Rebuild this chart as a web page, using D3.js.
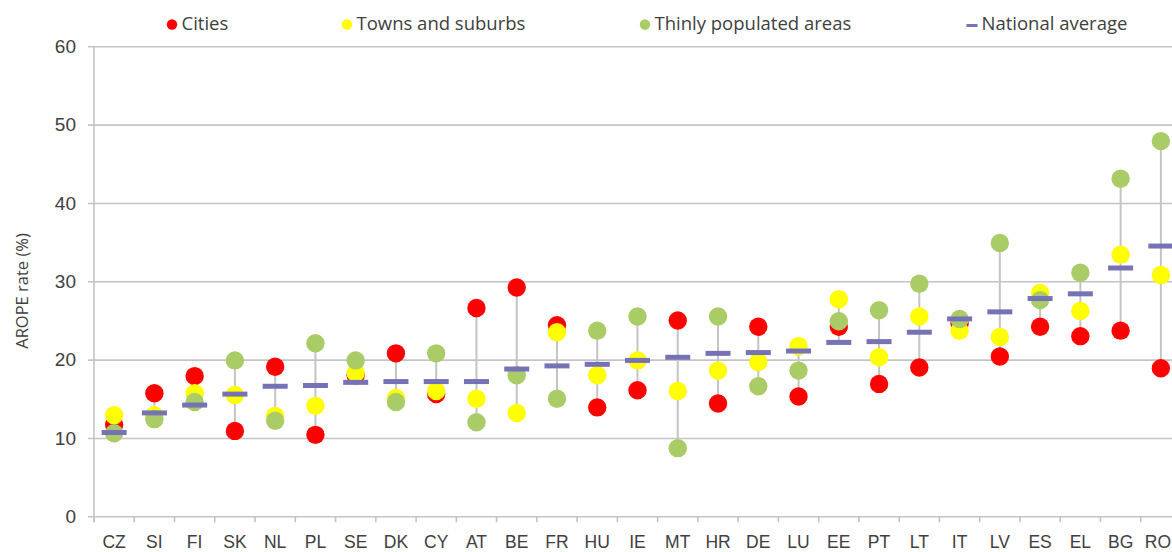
<!DOCTYPE html>
<html>
<head>
<meta charset="utf-8">
<script src="https://cdn.jsdelivr.net/npm/d3@7"></script>
<style>
  html, body { margin: 0; padding: 0; background: #fff; overflow: hidden; }
  svg { display: block; font-family: "Open Sans", "DejaVu Sans", sans-serif; }
</style>
</head>
<body>
<svg id="chart" width="1172" height="552"></svg>
<script>
// AROPE rate by degree of urbanisation, per country (%)
const countries = ["CZ","SI","FI","SK","NL","PL","SE","DK","CY","AT","BE","FR","HU","IE","MT","HR","DE","LU","EE","PT","LT","IT","LV","ES","EL","BG","RO"];
const cities = [11.7,15.7,17.9,10.9,19.1,10.4,18.0,20.8,15.6,26.6,29.2,24.4,13.9,16.1,25.0,14.4,24.2,15.3,24.2,16.9,19.0,24.6,20.4,24.2,23.0,23.7,18.9];
const towns = [12.9,12.9,15.7,15.5,12.8,14.1,18.3,15.1,16.0,15.0,13.2,23.5,18.0,19.9,16.0,18.6,19.7,21.7,27.7,20.3,25.5,23.7,22.9,28.5,26.2,33.4,30.8];
const thinly = [10.6,12.4,14.6,19.9,12.2,22.1,19.9,14.6,20.8,12.0,18.0,15.0,23.7,25.5,8.7,25.5,16.6,18.6,24.9,26.3,29.7,25.2,34.9,27.6,31.1,43.1,47.9];
const national = [10.7,13.2,14.2,15.6,16.6,16.7,17.1,17.2,17.2,17.2,18.8,19.2,19.4,19.9,20.3,20.8,20.9,21.1,22.2,22.3,23.5,25.2,26.1,27.8,28.4,31.7,34.5];
const yTicks = [0,10,20,30,40,50,60];

const series = [
  { name: "Cities", values: cities, color: "#ff0000" },
  { name: "Towns and suburbs", values: towns, color: "#ffff00" },
  { name: "Thinly populated areas", values: thinly, color: "#a9cc66" }
];
const avgColor = "#7672b6";
const gridColor = "#c4c4c4";
const textColor = "#404040";
const W = 1172;

const svg = d3.select("#chart");
const plot = { left: 94, right: 1181, top: 46.3, bottom: 516.3 };

const x = d3.scaleBand().domain(countries).range([plot.left, plot.right]).paddingInner(0).paddingOuter(0);
const y = d3.scaleLinear().domain([0, 60]).range([plot.bottom, plot.top]);

// horizontal gridlines with left tick stubs
const yAxis = d3.axisLeft(y).tickValues(yTicks).tickSize(-(W - plot.left)).tickPadding(18).tickSizeOuter(0);
const gy = svg.append("g").attr("transform", `translate(${plot.left},0)`).call(yAxis);
gy.select(".domain").remove();
gy.selectAll(".tick line").attr("stroke", gridColor).attr("stroke-width", 1.6).attr("x1", -6);
gy.selectAll(".tick text").attr("fill", textColor).style("font-size", "19px");

// vertical axis line
svg.append("line")
  .attr("x1", plot.left).attr("x2", plot.left)
  .attr("y1", plot.top).attr("y2", plot.bottom + 6)
  .attr("stroke", gridColor).attr("stroke-width", 1.6);

// category axis: ticks sit between categories
const xAxis = d3.axisBottom(x).tickSize(0).tickPadding(19);
const gx = svg.append("g").attr("transform", `translate(0,${plot.bottom})`).call(xAxis);
gx.select(".domain").remove();
gx.selectAll(".tick text").attr("fill", textColor).style("font-size", "17.5px");
// keep the last label inside the drawing area
gx.selectAll(".tick text").each(function () {
  const t = d3.select(this);
  const b = this.getBBox();
  const tr = d3.select(this.parentNode).attr("transform");
  const tx = +tr.match(/translate\(([-\d.]+)/)[1];
  if (tx + b.x + b.width > W - 1) t.attr("x", (W - 1) - (tx + b.x + b.width));
});
svg.append("g").selectAll("line")
  .data(countries)
  .join("line")
  .attr("x1", d => x(d)).attr("x2", d => x(d))
  .attr("y1", plot.bottom).attr("y2", plot.bottom + 6)
  .attr("stroke", gridColor).attr("stroke-width", 1.6);

// y axis title
svg.append("text")
  .attr("transform", `translate(28,291) rotate(-90)`)
  .attr("text-anchor", "middle")
  .attr("fill", textColor)
  .style("font-size", "16.5px")
  .text("AROPE rate (%)");

const cx = d => x(d) + x.bandwidth() / 2;

// high-low lines
svg.append("g").selectAll("line")
  .data(countries)
  .join("line")
  .attr("x1", cx).attr("x2", cx)
  .attr("y1", (d, i) => y(Math.max(cities[i], towns[i], thinly[i], national[i])))
  .attr("y2", (d, i) => y(Math.min(cities[i], towns[i], thinly[i], national[i])))
  .attr("stroke", gridColor).attr("stroke-width", 2);

// dots per series
series.forEach(s => {
  svg.append("g").selectAll("circle")
    .data(countries)
    .join("circle")
    .attr("cx", cx)
    .attr("cy", (d, i) => y(s.values[i]))
    .attr("r", 9.2)
    .attr("fill", s.color);
});

// national average markers
svg.append("g").selectAll("rect")
  .data(countries)
  .join("rect")
  .attr("x", d => cx(d) - 12.5)
  .attr("y", (d, i) => y(national[i]) - 2.5)
  .attr("width", 25)
  .attr("height", 5)
  .attr("fill", avgColor);

// legend
const legend = [
  { name: "Cities", color: series[0].color, x: 172, type: "dot" },
  { name: "Towns and suburbs", color: series[1].color, x: 347, type: "dot" },
  { name: "Thinly populated areas", color: series[2].color, x: 645, type: "dot" },
  { name: "National average", color: avgColor, x: 972, type: "dash" }
];
const lg = svg.append("g");
legend.forEach(l => {
  if (l.type === "dot") {
    lg.append("circle").attr("cx", l.x).attr("cy", 24.5).attr("r", 5.2).attr("fill", l.color);
  } else {
    lg.append("rect").attr("x", l.x - 5.5).attr("y", 24).attr("width", 11).attr("height", 3).attr("fill", l.color);
  }
  lg.append("text")
    .attr("x", l.x + 9.5).attr("y", 24)
    .attr("dy", "0.35em")
    .attr("fill", textColor)
    .style("font-size", "18.5px")
    .text(l.name);
});
</script>
</body>
</html>
